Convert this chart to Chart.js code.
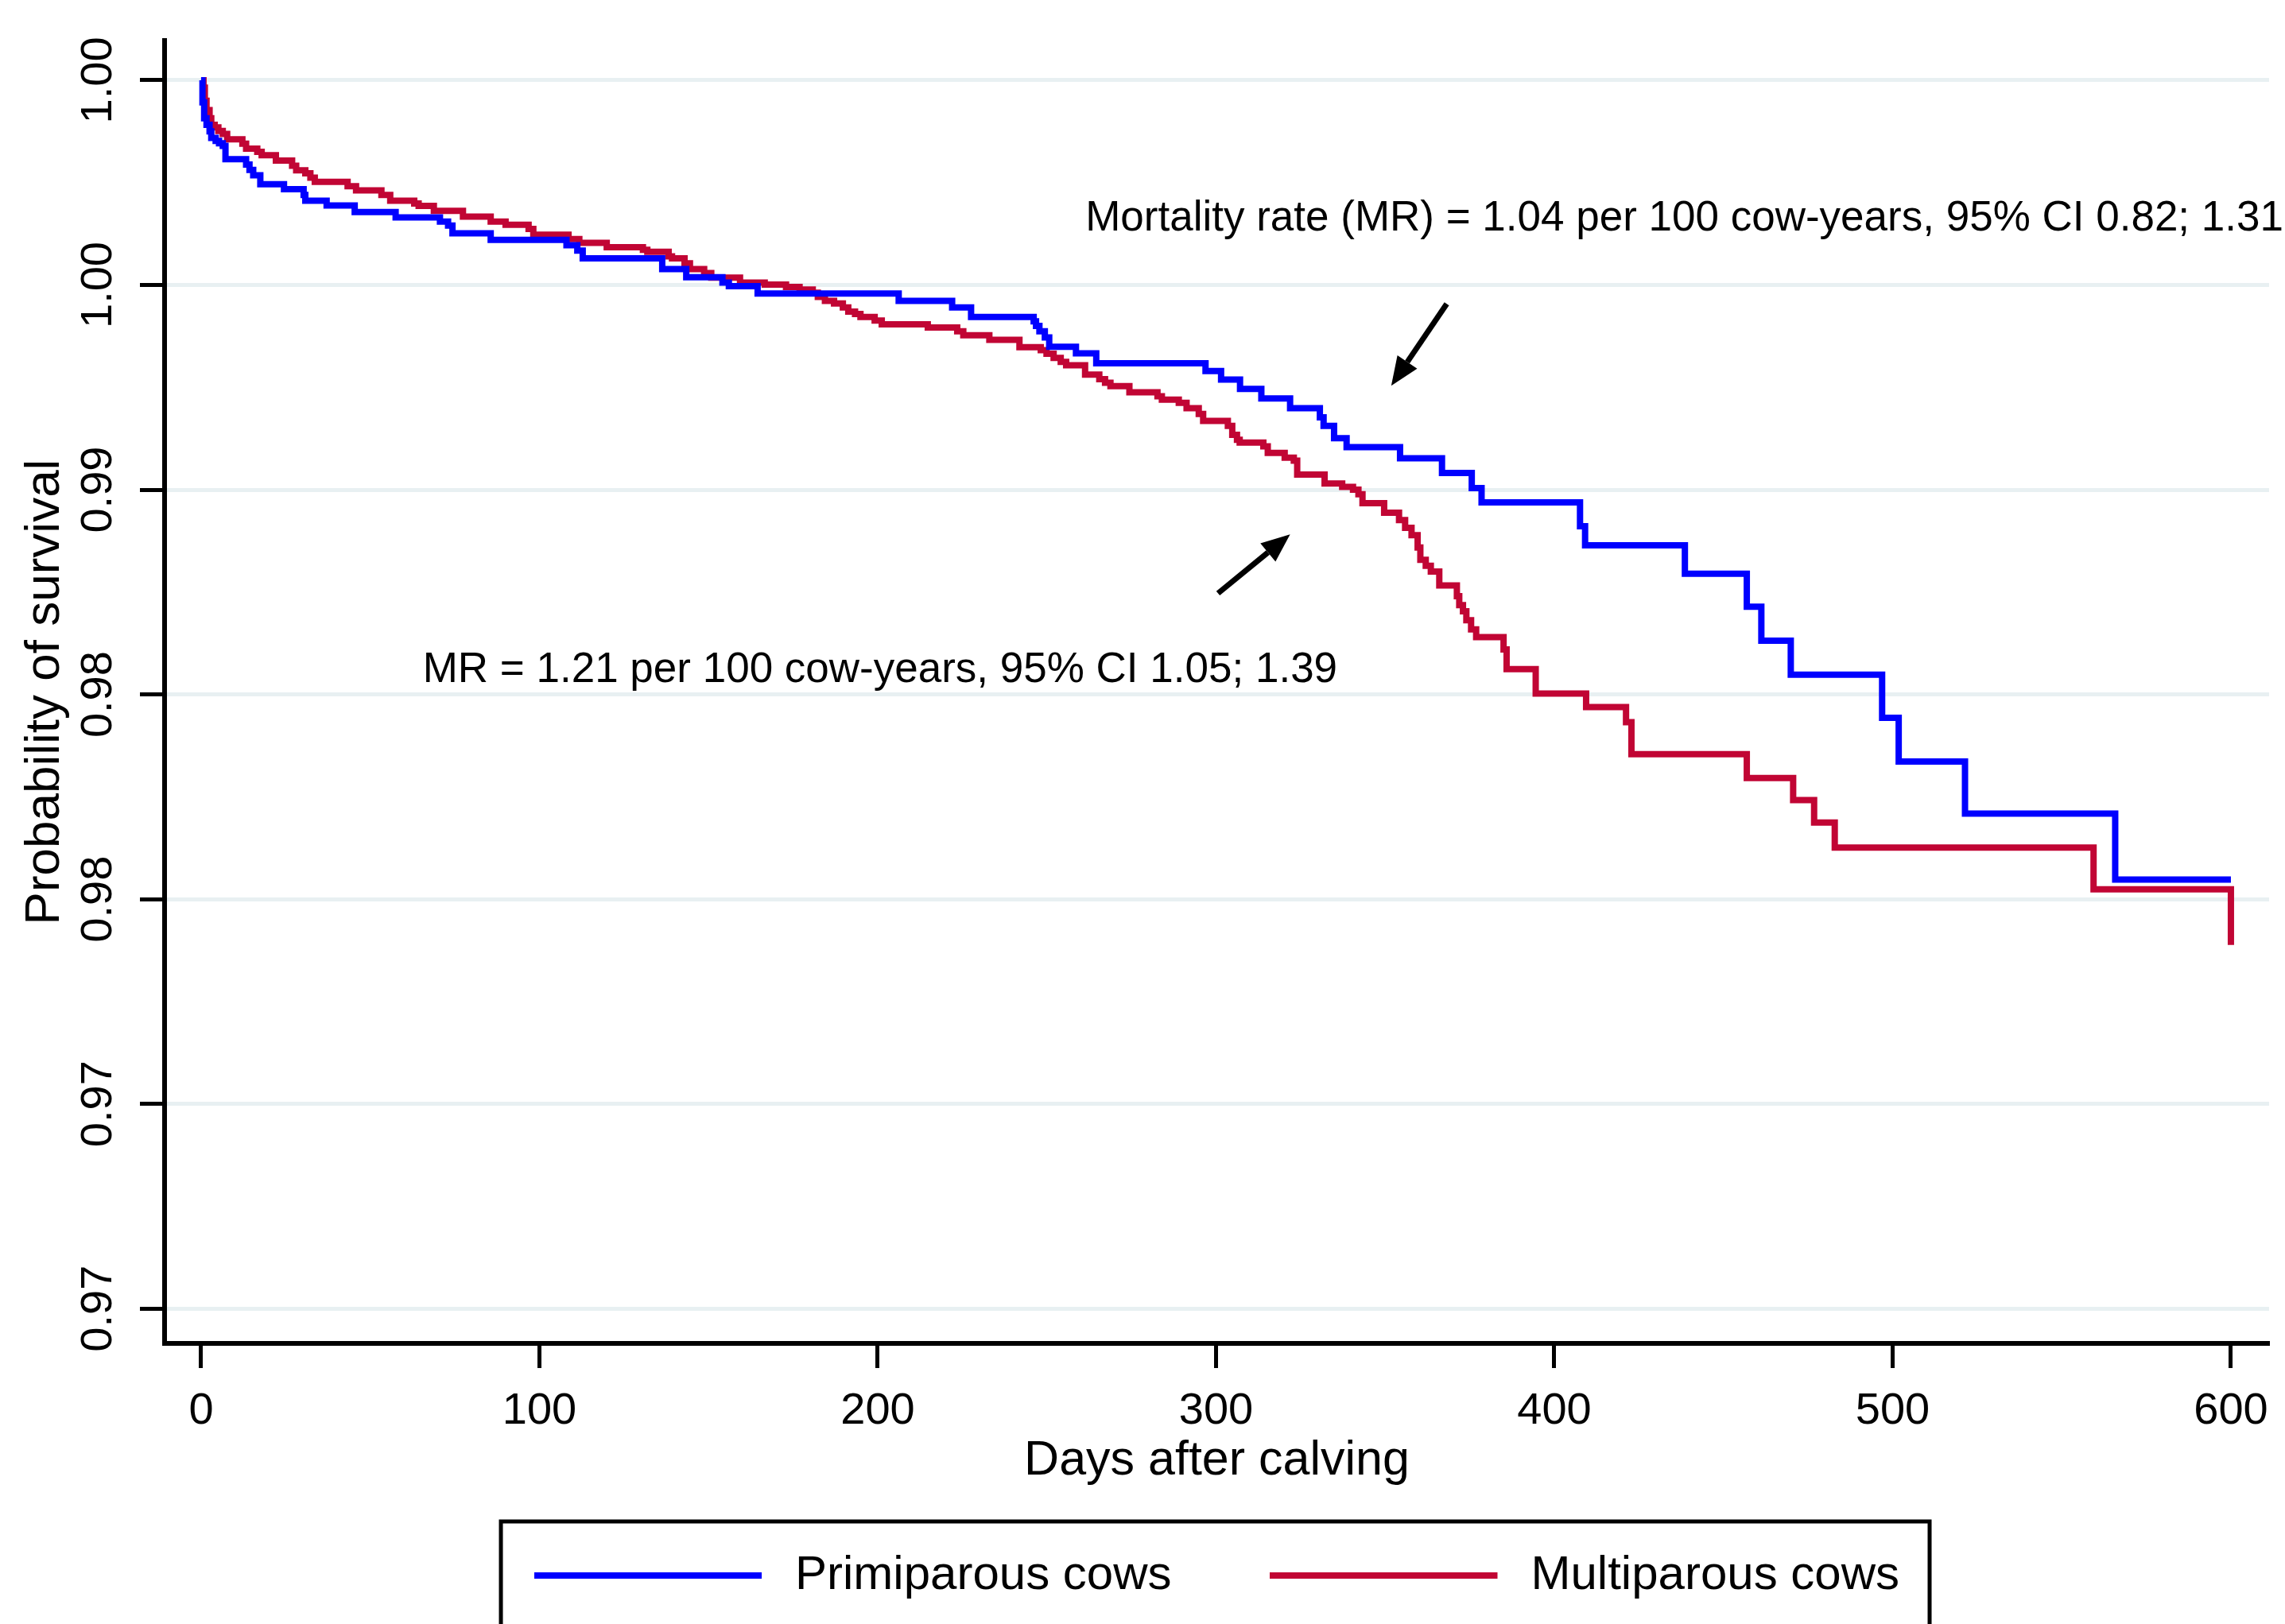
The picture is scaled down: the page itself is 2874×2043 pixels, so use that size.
<!DOCTYPE html>
<html>
<head>
<meta charset="utf-8">
<title>Probability of survival after calving</title>
<script src="https://cdn.jsdelivr.net/npm/chart.js@4.4.1/dist/chart.umd.min.js"></script>
<style>
  html, body { margin: 0; padding: 0; background: #fff; }
  #wrap { width: 2874px; height: 2043px; }
</style>
</head>
<body>
<div id="wrap"><canvas id="survival"></canvas></div>
<script>
// Kaplan-Meier steps: day of the step, survival after it
const primDays = [0, 0.4, 0.9, 1.6, 2.5, 3.0, 4.3, 5.3, 6.4, 7.2, 13.3, 14.3, 15.4, 17.5, 24.5,
  30.3, 30.8, 37.1, 45.4, 57.5, 70.6, 73.0, 74.3, 85.6, 108.0, 111.2, 112.8, 136.3, 143.4,
  154.1, 156.0, 164.5, 206.2, 222.0, 227.6, 246.1, 246.8, 247.8, 249.4, 250.7, 258.6, 264.6,
  296.9, 301.5, 307.1, 313.4, 321.9, 330.7, 331.8, 334.9, 338.6, 354.4, 366.8, 375.6, 378.5,
  407.6, 409.1, 438.6, 456.9, 461.2, 469.9, 496.9, 501.8, 521.4, 565.8, 600];
const primSurv = [1.0, 0.99946, 0.99907, 0.99891, 0.99875, 0.99859, 0.99852, 0.99846, 0.99840,
  0.99807, 0.99794, 0.99781, 0.99768, 0.99746, 0.99734, 0.99720, 0.99706, 0.99694, 0.99678,
  0.99665, 0.99655, 0.99645, 0.99626, 0.99610, 0.99597, 0.99584, 0.99565, 0.99539, 0.99519,
  0.99506, 0.99497, 0.99479, 0.99461, 0.99445, 0.99422, 0.99411, 0.99400, 0.99387, 0.99372,
  0.99349, 0.99333, 0.99309, 0.99290, 0.99269, 0.99246, 0.99223, 0.99199, 0.99177, 0.99156,
  0.99126, 0.99104, 0.99077, 0.99041, 0.99004, 0.98969, 0.98911, 0.98864, 0.98795, 0.98714,
  0.98631, 0.98548, 0.98443, 0.98336, 0.98209, 0.98048, 0.98048];

const multDays = [0, 0.7, 1.1, 1.6, 2.5, 3.0, 4.0, 5.1, 6.4, 7.7, 12.2, 13.3, 16.6, 17.9, 22.1,
  26.9, 28.1, 30.8, 32.3, 33.6, 43.3, 45.8, 53.3, 55.9, 63.0, 64.3, 68.8, 77.4, 85.6, 90.0,
  96.8, 98.2, 108.6, 111.8, 119.9, 130.6, 131.9, 138.2, 139.2, 142.9, 144.5, 148.7, 150.8,
  159.3, 166.6, 172.9, 176.9, 180.8, 182.3, 184.4, 187.1, 189.7, 191.3, 193.3, 194.9, 199.1,
  201.2, 214.8, 223.5, 225.3, 233.0, 241.9, 248.2, 249.9, 252.0, 254.1, 255.7, 261.3, 265.5,
  267.2, 268.8, 274.4, 282.7, 284.0, 289.0, 291.3, 294.9, 296.2, 303.5, 304.8, 306.2, 307.0,
  314.0, 315.3, 320.3, 323.0, 324.0, 332.1, 337.3, 340.5, 342.1, 343.3, 349.7, 354.1, 355.9,
  357.8, 359.6, 360.4, 362.0, 363.5, 366.0, 371.2, 371.9, 373.0, 374.0, 375.4, 376.9, 385.0,
  385.9, 394.5, 409.4, 421.2, 422.8, 456.9, 470.6, 476.8, 482.9, 559.4, 600];
const multSurv = [1.0, 0.99982, 0.99950, 0.99927, 0.99907, 0.99891, 0.99885, 0.99876, 0.99869,
  0.99856, 0.99845, 0.99833, 0.99825, 0.99817, 0.99804, 0.99791, 0.99780, 0.99773, 0.99762,
  0.99752, 0.99741, 0.99731, 0.99720, 0.99706, 0.99699, 0.99693, 0.99681, 0.99667, 0.99655,
  0.99647, 0.99637, 0.99623, 0.99612, 0.99603, 0.99592, 0.99586, 0.99581, 0.99570, 0.99565,
  0.99553, 0.99539, 0.99529, 0.99518, 0.99506, 0.99501, 0.99495, 0.99489, 0.99481, 0.99471,
  0.99461, 0.99455, 0.99445, 0.99435, 0.99429, 0.99422, 0.99413, 0.99404, 0.99396, 0.99387,
  0.99377, 0.99366, 0.99348, 0.99341, 0.99332, 0.99322, 0.99312, 0.99304, 0.99281, 0.99270,
  0.99261, 0.99253, 0.99238, 0.99228, 0.99220, 0.99212, 0.99199, 0.99185, 0.99168, 0.99156,
  0.99134, 0.99122, 0.99115, 0.99106, 0.99090, 0.99078, 0.99071, 0.99037, 0.99015, 0.99007,
  0.99000, 0.98989, 0.98967, 0.98944, 0.98926, 0.98907, 0.98889, 0.98859, 0.98829, 0.98814,
  0.98800, 0.98766, 0.98740, 0.98718, 0.98703, 0.98681, 0.98659, 0.98640, 0.98610, 0.98562,
  0.98502, 0.98469, 0.98432, 0.98354, 0.98296, 0.98242, 0.98187, 0.98126, 0.98024, 0.97888];

const seriesNames = ['Primiparous cows', 'Multiparous cows'];
const seriesColors = ['#0000FF', '#C10534'];

const xTicks = [0, 100, 200, 300, 400, 500, 600];
const yTicks = [0.970, 0.975, 0.980, 0.985, 0.990, 0.995, 1.000];
// labels as printed on the figure (rounded to two decimals)
const yTickLabels = ['0.97', '0.97', '0.98', '0.98', '0.99', '1.00', '1.00'];

// annotations, placed in data units
const notes = [
  { text: 'Mortality rate (MR) = 1.04 per 100 cow-years, 95% CI 0.82; 1.31', day: 261.4, surv: 0.99662 },
  { text: 'MR = 1.21 per 100 cow-years, 95% CI 1.05; 1.39', day: 65.5, surv: 0.98559 }
];
const arrows = [
  { from: [368.2, 0.99454], to: [351.8, 0.99254] },
  { from: [300.6, 0.98747], to: [321.9, 0.98891] }
];

const FONT = '"Liberation Sans", Arial, Helvetica, sans-serif';
Chart.defaults.font.family = FONT;
Chart.defaults.color = '#000';

function toPoints(days, surv) {
    return days.map((d, i) => ({ x: d, y: surv[i] }));
}

// legend key: a line with a little empty space after it, before the text
function legendSwatch(color) {
    const c = document.createElement('canvas');
    c.width = 298;
    c.height = 8;
    const g = c.getContext('2d');
    g.fillStyle = color;
    g.fillRect(0, 0, 286, 8);
    return c;
}

function drawArrow(ctx, x1, y1, x2, y2) {
    const ang = Math.atan2(y2 - y1, x2 - x1);
    const headLen = 36, headHalf = 15;
    const bx = x2 - headLen * Math.cos(ang);
    const by = y2 - headLen * Math.sin(ang);
    ctx.beginPath();
    ctx.moveTo(x1, y1);
    ctx.lineTo(bx, by);
    ctx.stroke();
    ctx.beginPath();
    ctx.moveTo(x2, y2);
    ctx.lineTo(bx + headHalf * Math.sin(ang), by - headHalf * Math.cos(ang));
    ctx.lineTo(bx - headHalf * Math.sin(ang), by + headHalf * Math.cos(ang));
    ctx.closePath();
    ctx.fill();
}

const notesPlugin = {
    id: 'notes',
    afterDraw(chart) {
        const { ctx } = chart;
        const x = chart.scales.x, y = chart.scales.y;
        ctx.save();
        ctx.fillStyle = '#000';
        ctx.strokeStyle = '#000';
        ctx.font = '53px ' + FONT;
        ctx.textAlign = 'left';
        ctx.textBaseline = 'middle';
        notes.forEach(n => {
            ctx.fillText(n.text, x.getPixelForValue(n.day), y.getPixelForValue(n.surv));
        });
        ctx.lineWidth = 7;
        arrows.forEach(a => {
            drawArrow(ctx,
                x.getPixelForValue(a.from[0]), y.getPixelForValue(a.from[1]),
                x.getPixelForValue(a.to[0]), y.getPixelForValue(a.to[1]));
        });

        // frame round the legend
        const boxes = chart.legend.legendHitBoxes;
        if (boxes && boxes.length) {
            const first = boxes[0], last = boxes[boxes.length - 1];
            const left = first.left - 42;
            const right = last.left + last.width + 38;
            const top = first.top + first.height / 2 - 68;
            ctx.lineWidth = 5;
            ctx.strokeRect(left, top, right - left, chart.height - top + 20);
        }
        ctx.restore();
    }
};

new Chart(document.getElementById('survival'), {
    type: 'line',
    data: {
        datasets: [
            {
                label: seriesNames[0],
                data: toPoints(primDays, primSurv),
                borderColor: seriesColors[0],
                backgroundColor: seriesColors[0]
            },
            {
                label: seriesNames[1],
                data: toPoints(multDays, multSurv),
                borderColor: seriesColors[1],
                backgroundColor: seriesColors[1]
            }
        ]
    },
    options: {
        responsive: true,
        maintainAspectRatio: false,
        animation: false,
        layout: {
            padding: { top: 51, right: 18, bottom: 21, left: 0 }
        },
        elements: {
            line: { borderWidth: 8, stepped: true, fill: false, tension: 0 },
            point: { radius: 0, hoverRadius: 0 }
        },
        scales: {
            x: {
                type: 'linear',
                min: -10.8,
                max: 611.3,
                afterBuildTicks: scale => { scale.ticks = xTicks.map(v => ({ value: v })); },
                afterFit: scale => { scale.height = 138; },
                ticks: {
                    font: { size: 56 },
                    color: '#000',
                    padding: 21,
                    maxRotation: 0,
                    autoSkip: false
                },
                grid: {
                    drawOnChartArea: false,
                    drawTicks: true,
                    tickLength: 31,
                    tickWidth: 5,
                    tickColor: '#000'
                },
                border: { color: '#000', width: 6 },
                title: {
                    display: true,
                    text: 'Days after calving',
                    font: { size: 61 },
                    color: '#000',
                    padding: { top: 0, bottom: -47 }
                }
            },
            y: {
                type: 'linear',
                min: 0.96915,
                max: 1.00097,
                afterBuildTicks: scale => { scale.ticks = yTicks.map(v => ({ value: v })); },
                afterFit: scale => { scale.width = 207; },
                ticks: {
                    callback: (value, index) => yTickLabels[index],
                    font: { size: 56 },
                    color: '#000',
                    padding: -3,
                    minRotation: 90,
                    maxRotation: 90,
                    crossAlign: 'center',
                    autoSkip: false
                },
                grid: {
                    color: '#E8F0F2',
                    lineWidth: 5,
                    drawTicks: true,
                    tickLength: 31,
                    tickWidth: 5,
                    tickColor: '#000'
                },
                border: { color: '#000', width: 6 },
                title: {
                    display: true,
                    text: 'Probability of survival',
                    font: { size: 62 },
                    color: '#000',
                    padding: { top: 20, bottom: 0 }
                }
            }
        },
        plugins: {
            legend: {
                position: 'bottom',
                fullSize: false,
                labels: {
                    font: { size: 60 },
                    color: '#000',
                    padding: 124,
                    usePointStyle: true,
                    pointStyleWidth: 298,
                    generateLabels: chart =>
                        Chart.defaults.plugins.legend.labels.generateLabels(chart)
                            .map((item, i) => ({ ...item, pointStyle: legendSwatch(seriesColors[i]) }))
                }
            },
            tooltip: { enabled: false }
        }
    },
    plugins: [notesPlugin]
});
</script>
</body>
</html>
